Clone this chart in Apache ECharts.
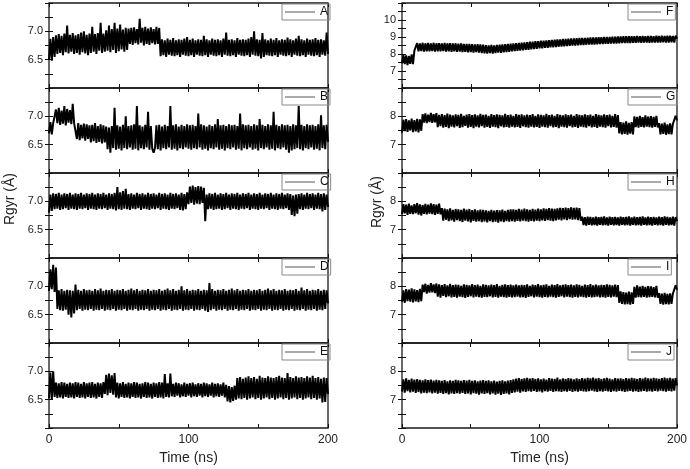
<!DOCTYPE html>
<html><head><meta charset="utf-8">
<script src="https://cdn.jsdelivr.net/npm/echarts@6/dist/echarts.min.js"></script>
<style>html,body{margin:0;padding:0;background:#fff}#c{width:690px;height:469px}</style>
</head><body><div id="c"></div>
<script>
// Sampling step of the traces (ns) and panel names
const STEP_NS = 1;
const panelNames = ['A','B','C','D','E','F','G','H','I','J'];

// Rgyr (Å) traces, one value per ns from 0 to 200 ns
const rgyrA = [
6.50,6.87,6.48,6.90,6.55,6.93,6.60,6.95,6.62,6.92,6.58,6.96,6.63,7.10,6.61,6.94,6.64,6.97,6.60,6.93,
6.62,6.95,6.59,6.98,6.63,7.00,6.61,6.94,6.58,6.96,6.62,7.08,6.64,6.95,6.60,6.97,6.66,7.15,6.62,6.96,
6.64,7.02,6.66,7.10,6.63,7.04,6.67,7.15,6.62,7.05,6.65,7.12,6.68,7.03,6.64,7.06,6.67,7.05,6.78,7.06,
6.76,7.07,6.79,7.04,6.77,7.22,6.80,7.06,6.75,7.08,6.78,7.05,6.76,7.07,6.79,7.04,6.77,7.08,6.78,7.06,
6.56,6.86,6.58,6.84,6.55,6.87,6.59,6.85,6.57,6.88,6.56,6.84,6.58,6.86,6.55,6.85,6.59,6.87,6.57,6.90,
6.56,6.85,6.58,6.87,6.55,6.84,6.59,6.86,6.57,6.85,6.56,6.92,6.58,6.86,6.55,6.84,6.59,6.87,6.57,6.85,
6.56,6.86,6.58,6.84,6.55,6.87,6.59,6.98,6.57,6.85,6.56,6.86,6.58,6.84,6.55,6.88,6.59,6.85,6.57,6.86,
6.56,6.85,6.58,6.87,6.55,6.90,6.59,7.00,6.57,6.86,6.56,6.85,6.52,6.97,6.55,6.86,6.58,6.84,6.57,6.87,
6.56,6.85,6.58,6.88,6.55,6.84,6.59,6.86,6.57,6.85,6.56,6.89,6.58,6.86,6.55,6.84,6.59,6.87,6.57,6.92,
6.56,6.86,6.58,6.84,6.55,6.87,6.59,6.85,6.57,6.86,6.56,6.88,6.58,6.85,6.55,6.86,6.59,6.84,6.57,6.98,
6.60];
const rgyrB = [
6.70,6.90,6.68,6.88,6.86,7.12,6.88,7.15,6.85,7.10,6.87,7.18,6.84,7.13,6.89,7.11,6.86,7.22,6.88,6.86,
6.60,6.88,6.58,6.85,6.61,6.87,6.57,6.86,6.60,6.84,6.54,6.85,6.56,6.88,6.53,6.83,6.55,6.86,6.52,6.84,
6.54,6.82,6.42,6.80,6.36,6.83,6.44,7.15,6.41,6.84,6.43,6.82,6.40,6.85,6.44,7.00,6.42,6.83,6.45,6.84,
6.41,6.86,6.43,7.18,6.40,6.84,6.44,6.82,6.42,6.85,6.45,7.08,6.41,6.83,6.43,6.36,6.44,6.84,6.42,6.85,
6.40,6.82,6.44,6.85,6.42,6.83,6.45,7.18,6.41,6.84,6.43,6.86,6.40,6.82,6.44,6.85,6.42,6.83,6.45,6.86,
6.43,6.84,6.41,6.85,6.44,6.83,6.42,7.05,6.45,6.86,6.41,6.84,6.43,6.82,6.40,6.85,6.44,6.83,6.42,6.86,
6.45,6.95,6.41,6.84,6.43,6.85,6.40,6.83,6.44,6.86,6.42,6.84,6.45,6.85,6.41,6.83,6.43,7.05,6.40,6.86,
6.44,6.84,6.42,6.85,6.45,6.83,6.41,6.86,6.43,6.84,6.40,6.95,6.44,6.85,6.42,6.83,6.45,6.86,6.41,6.84,
6.43,7.08,6.40,6.85,6.44,6.83,6.42,6.86,6.45,6.84,6.41,6.85,6.36,6.83,6.40,6.86,6.42,6.84,6.44,7.18,
6.42,6.85,6.40,6.83,6.44,6.86,6.42,6.84,6.45,6.85,6.41,6.83,6.43,6.86,6.40,7.02,6.44,6.84,6.42,6.85,
6.55];
const rgyrC = [
6.80,7.12,6.83,7.14,6.86,7.13,6.87,7.15,6.85,7.12,6.86,7.14,6.88,7.13,6.85,7.15,6.87,7.12,6.86,7.14,
6.85,7.13,6.87,7.15,6.86,7.12,6.88,7.14,6.85,7.13,6.87,7.15,6.86,7.12,6.85,7.14,6.87,7.13,6.86,7.15,
6.88,7.12,6.85,7.14,6.87,7.13,6.86,7.15,6.84,7.25,6.86,7.16,6.85,7.18,6.87,7.22,6.86,7.13,6.85,7.14,
6.87,7.12,6.86,7.15,6.88,7.13,6.85,7.14,6.87,7.12,6.86,7.15,6.85,7.13,6.87,7.14,6.86,7.12,6.88,7.15,
6.85,7.13,6.87,7.14,6.86,7.12,6.85,7.15,6.87,7.13,6.86,7.14,6.88,7.12,6.85,7.15,6.84,7.13,6.86,7.16,
6.95,7.26,6.97,7.28,6.94,7.25,6.96,7.27,6.95,7.26,6.97,7.24,6.65,7.12,6.86,7.14,6.87,7.13,6.85,7.15,
6.86,7.12,6.87,7.14,6.85,7.13,6.86,7.15,6.88,7.12,6.85,7.14,6.87,7.13,6.86,7.15,6.85,7.12,6.87,7.14,
6.86,7.13,6.88,7.15,6.85,7.12,6.87,7.14,6.86,7.13,6.85,7.15,6.87,7.12,6.86,7.14,6.88,7.13,6.85,7.15,
6.87,7.12,6.86,7.14,6.85,7.13,6.87,7.15,6.86,7.12,6.88,7.14,6.85,7.13,6.76,7.10,6.74,7.12,6.78,7.13,
6.86,7.14,6.85,7.12,6.87,7.15,6.86,7.13,6.88,7.14,6.85,7.12,6.87,7.15,6.86,7.13,6.82,7.14,6.85,7.12,
6.90];
const rgyrD = [
6.92,7.30,6.95,7.38,6.90,7.33,6.60,6.93,6.58,6.95,6.57,6.92,6.59,6.94,6.50,6.93,6.45,6.92,6.52,7.03,
6.58,6.94,6.60,6.92,6.57,6.95,6.59,6.93,6.58,6.94,6.60,6.92,6.57,6.95,6.59,6.93,6.58,6.96,6.60,6.92,
6.57,6.94,6.59,6.93,6.58,6.95,6.60,6.92,6.57,6.94,6.59,6.93,6.58,6.95,6.60,6.92,6.57,6.94,6.59,6.96,
6.58,6.93,6.60,6.95,6.57,6.92,6.59,6.94,6.58,6.93,6.60,6.95,6.57,6.92,6.59,6.94,6.58,6.93,6.60,6.95,
6.57,6.92,6.59,6.94,6.58,6.96,6.60,6.93,6.57,6.95,6.59,6.92,6.58,6.94,6.60,7.00,6.57,6.93,6.59,6.95,
6.58,6.92,6.60,6.94,6.57,6.93,6.59,6.95,6.58,6.92,6.60,6.94,6.57,6.93,6.55,7.06,6.58,6.95,6.60,6.92,
6.57,6.94,6.59,6.93,6.58,6.95,6.60,6.92,6.57,6.94,6.59,6.96,6.58,6.93,6.60,6.95,6.57,6.92,6.59,6.94,
6.58,6.93,6.60,6.95,6.57,6.92,6.59,6.94,6.58,6.93,6.60,6.95,6.57,6.92,6.59,6.94,6.58,6.96,6.60,6.93,
6.57,6.95,6.59,6.92,6.58,6.94,6.60,6.93,6.57,6.95,6.59,6.92,6.58,6.94,6.60,6.93,6.57,6.95,6.59,6.92,
6.58,6.98,6.60,6.93,6.57,6.95,6.59,6.92,6.58,6.94,6.60,6.93,6.57,6.95,6.59,6.92,6.58,6.94,6.60,6.93,
6.70];
const rgyrE = [
6.52,6.98,6.50,7.00,6.55,6.80,6.53,6.79,6.54,6.81,6.52,6.80,6.55,6.78,6.53,6.80,6.54,6.79,6.52,6.81,
6.55,6.80,6.53,6.78,6.54,6.81,6.52,6.79,6.55,6.80,6.53,6.81,6.54,6.78,6.52,6.80,6.55,6.79,6.53,6.81,
6.60,6.94,6.58,6.96,6.62,6.93,6.59,6.97,6.54,6.80,6.52,6.79,6.55,6.81,6.53,6.78,6.54,6.80,6.52,6.79,
6.55,6.81,6.53,6.80,6.54,6.78,6.52,6.79,6.55,6.81,6.53,6.80,6.54,6.78,6.52,6.80,6.55,6.79,6.53,6.81,
6.54,6.80,6.52,6.95,6.55,6.79,6.54,6.96,6.56,6.78,6.55,6.80,6.57,6.79,6.54,6.77,6.56,6.80,6.55,6.78,
6.57,6.79,6.54,6.80,6.56,6.77,6.55,6.79,6.57,6.78,6.54,6.80,6.56,6.79,6.55,6.77,6.57,6.80,6.54,6.78,
6.56,6.79,6.55,6.77,6.57,6.80,6.54,6.76,6.47,6.74,6.45,6.72,6.48,6.75,6.50,6.88,6.52,6.90,6.51,6.87,
6.53,6.89,6.50,6.91,6.52,6.88,6.54,6.90,6.51,6.87,6.53,6.92,6.50,6.89,6.52,6.88,6.54,6.91,6.51,6.89,
6.53,6.88,6.50,6.90,6.52,6.92,6.54,6.89,6.51,6.88,6.53,6.97,6.50,6.90,6.52,6.88,6.54,6.91,6.51,6.89,
6.53,6.90,6.50,6.88,6.52,6.91,6.54,6.89,6.51,6.92,6.53,6.88,6.50,6.90,6.52,6.87,6.45,6.89,6.46,6.88,
6.60];
const rgyrF = [
7.45,7.95,7.40,7.92,7.35,7.88,7.42,7.98,7.40,8.20,8.18,8.64,8.15,8.62,8.17,8.66,8.14,8.63,8.16,8.65,
8.15,8.62,8.17,8.66,8.14,8.63,8.16,8.64,8.15,8.62,8.17,8.65,8.14,8.63,8.16,8.64,8.13,8.62,8.15,8.63,
8.12,8.61,8.14,8.62,8.11,8.60,8.13,8.59,8.10,8.60,8.12,8.58,8.09,8.57,8.11,8.58,8.08,8.56,8.06,8.55,
8.04,8.52,8.02,8.50,8.05,8.53,8.03,8.51,8.06,8.54,8.08,8.55,8.07,8.56,8.10,8.58,8.12,8.59,8.13,8.61,
8.15,8.62,8.17,8.64,8.19,8.65,8.20,8.67,8.22,8.68,8.24,8.70,8.25,8.72,8.27,8.73,8.29,8.75,8.31,8.76,
8.33,8.78,8.34,8.79,8.36,8.80,8.37,8.81,8.39,8.83,8.40,8.84,8.41,8.85,8.43,8.86,8.44,8.88,8.45,8.89,
8.46,8.90,8.48,8.91,8.49,8.92,8.50,8.93,8.51,8.94,8.52,8.95,8.53,8.95,8.54,8.96,8.55,8.97,8.56,8.97,
8.56,8.98,8.57,8.99,8.58,8.99,8.59,9.00,8.60,9.00,8.60,9.01,8.61,9.02,8.62,9.02,8.62,9.03,8.63,9.03,
8.64,9.04,8.64,9.04,8.65,9.05,8.65,9.05,8.66,9.04,8.66,9.06,8.67,9.05,8.66,9.06,8.67,9.05,8.68,9.06,
8.66,9.06,8.68,9.05,8.67,9.07,8.68,9.06,8.67,9.08,8.69,9.06,8.68,9.07,8.67,9.08,8.69,9.06,8.68,9.08,
8.90];
const rgyrG = [
7.42,7.88,7.48,7.90,7.45,7.86,7.50,7.92,7.44,7.87,7.47,7.91,7.43,7.89,7.49,8.08,7.78,8.10,7.76,8.06,
7.80,8.12,7.77,8.08,7.79,8.11,7.62,8.05,7.65,8.08,7.60,8.04,7.63,8.10,7.58,8.06,7.64,8.03,7.61,8.07,
7.65,8.05,7.59,8.09,7.62,8.02,7.66,8.06,7.60,8.08,7.63,8.04,7.58,8.07,7.64,8.03,7.61,8.09,7.65,8.05,
7.60,8.06,7.63,8.02,7.59,8.08,7.64,8.04,7.62,8.07,7.58,8.05,7.65,8.03,7.61,8.09,7.63,8.04,7.60,8.06,
7.64,8.02,7.61,8.08,7.63,8.05,7.59,8.07,7.65,8.03,7.62,8.06,7.60,8.04,7.64,8.08,7.61,8.02,7.63,8.07,
7.59,8.05,7.64,8.03,7.62,8.09,7.60,8.04,7.65,8.06,7.61,8.02,7.63,8.08,7.58,8.05,7.64,8.03,7.62,8.07,
7.60,8.04,7.65,8.06,7.61,8.02,7.63,8.08,7.59,8.05,7.64,8.03,7.62,8.07,7.60,8.04,7.65,8.06,7.61,8.02,
7.63,8.08,7.59,8.05,7.64,8.03,7.62,8.07,7.60,8.04,7.65,8.06,7.61,8.02,7.63,8.08,7.60,8.04,7.40,7.80,
7.36,7.78,7.38,7.82,7.35,7.77,7.39,7.80,7.36,8.00,7.62,7.98,7.60,8.02,7.63,7.97,7.61,8.03,7.64,7.99,
7.62,8.01,7.60,7.98,7.63,8.02,7.61,7.76,7.36,7.74,7.38,7.78,7.35,7.72,7.37,7.75,7.36,7.73,7.72,8.02,
7.85];
const rgyrH = [
7.55,7.90,7.58,7.88,7.52,7.92,7.56,7.86,7.55,7.90,7.58,7.94,7.53,7.89,7.50,7.87,7.56,7.91,7.54,7.88,
7.57,7.93,7.55,7.90,7.52,7.88,7.56,7.92,7.54,7.76,7.32,7.74,7.35,7.72,7.30,7.75,7.33,7.70,7.28,7.73,
7.34,7.72,7.30,7.70,7.27,7.74,7.32,7.71,7.29,7.73,7.26,7.69,7.31,7.72,7.28,7.68,7.30,7.71,7.27,7.70,
7.29,7.68,7.26,7.66,7.30,7.70,7.27,7.67,7.28,7.69,7.25,7.68,7.29,7.71,7.27,7.66,7.30,7.70,7.28,7.72,
7.30,7.72,7.28,7.70,7.31,7.73,7.29,7.71,7.32,7.74,7.30,7.72,7.28,7.70,7.31,7.73,7.29,7.71,7.32,7.74,
7.30,7.72,7.33,7.75,7.31,7.73,7.34,7.76,7.32,7.74,7.30,7.73,7.33,7.75,7.35,7.77,7.33,7.76,7.36,7.78,
7.34,7.76,7.37,7.79,7.35,7.77,7.36,7.78,7.34,7.76,7.32,7.46,7.16,7.44,7.14,7.46,7.17,7.45,7.15,7.43,
7.16,7.46,7.14,7.44,7.17,7.45,7.15,7.47,7.16,7.43,7.14,7.46,7.17,7.44,7.15,7.45,7.16,7.43,7.14,7.46,
7.17,7.44,7.15,7.45,7.16,7.47,7.14,7.43,7.17,7.46,7.15,7.44,7.16,7.45,7.14,7.47,7.17,7.43,7.15,7.46,
7.16,7.44,7.14,7.45,7.17,7.43,7.15,7.46,7.16,7.44,7.14,7.47,7.17,7.45,7.15,7.43,7.16,7.46,7.14,7.44,
7.30];
const rgyrI = [
7.45,7.86,7.42,7.90,7.48,7.88,7.46,7.93,7.43,7.89,7.47,7.87,7.44,7.91,7.48,8.06,7.80,8.09,7.74,8.05,
7.78,8.11,7.79,8.07,7.76,8.10,7.64,8.07,7.60,8.04,7.66,8.08,7.62,8.03,7.65,8.09,7.61,8.04,7.63,8.06,
7.60,8.05,7.64,8.02,7.62,8.07,7.59,8.05,7.63,8.03,7.65,8.08,7.61,8.04,7.64,8.06,7.62,8.02,7.60,8.07,
7.63,8.05,7.62,8.03,7.65,8.06,7.61,8.04,7.63,8.08,7.60,8.02,7.64,8.05,7.62,8.07,7.60,8.04,7.63,8.06,
7.61,8.03,7.62,8.06,7.64,8.03,7.61,8.05,7.62,8.04,7.59,8.07,7.63,8.02,7.65,8.06,7.61,8.04,7.64,8.08,
7.62,8.03,7.60,8.05,7.63,8.07,7.61,8.02,7.64,8.06,7.62,8.04,7.60,8.08,7.63,8.03,7.65,8.05,7.61,8.07,
7.64,8.04,7.62,8.06,7.60,8.03,7.63,8.07,7.61,8.05,7.64,8.02,7.62,8.06,7.60,8.04,7.63,8.08,7.61,8.03,
7.62,8.06,7.64,8.03,7.61,8.05,7.62,8.04,7.60,8.07,7.63,8.05,7.61,8.03,7.64,8.06,7.62,8.04,7.42,7.82,
7.38,7.80,7.36,7.78,7.37,7.81,7.35,7.79,7.38,7.98,7.60,8.03,7.62,7.99,7.61,8.02,7.63,7.98,7.60,8.01,
7.62,8.00,7.63,7.97,7.61,8.02,7.60,7.76,7.38,7.74,7.35,7.77,7.37,7.73,7.36,7.75,7.38,7.74,7.75,8.04,
7.88];
const rgyrJ = [
7.28,7.72,7.25,7.75,7.30,7.70,7.26,7.74,7.28,7.71,7.24,7.73,7.27,7.70,7.22,7.68,7.25,7.72,7.23,7.69,
7.26,7.71,7.22,7.67,7.25,7.70,7.21,7.68,7.24,7.66,7.20,7.69,7.23,7.65,7.19,7.68,7.22,7.66,7.20,7.70,
7.23,7.68,7.21,7.66,7.24,7.69,7.20,7.67,7.22,7.70,7.19,7.66,7.23,7.68,7.21,7.65,7.18,7.67,7.22,7.69,
7.20,7.66,7.23,7.68,7.19,7.65,7.22,7.67,7.18,7.64,7.21,7.66,7.17,7.68,7.20,7.65,7.22,7.67,7.19,7.69,
7.24,7.72,7.26,7.74,7.28,7.76,7.25,7.73,7.29,7.75,7.27,7.77,7.30,7.74,7.28,7.76,7.31,7.73,7.27,7.75,
7.29,7.72,7.26,7.74,7.30,7.71,7.28,7.76,7.31,7.74,7.27,7.73,7.30,7.78,7.29,7.72,7.27,7.75,7.30,7.73,
7.28,7.76,7.31,7.74,7.27,7.72,7.30,7.75,7.28,7.73,7.31,7.76,7.29,7.74,7.28,7.77,7.30,7.75,7.32,7.78,
7.29,7.74,7.27,7.76,7.30,7.73,7.28,7.75,7.31,7.77,7.29,7.74,7.27,7.72,7.30,7.76,7.28,7.74,7.31,7.75,
7.30,7.73,7.27,7.76,7.29,7.74,7.31,7.77,7.28,7.75,7.30,7.73,7.27,7.76,7.29,7.74,7.31,7.78,7.28,7.75,
7.30,7.74,7.28,7.77,7.31,7.75,7.29,7.73,7.32,7.76,7.30,7.78,7.28,7.75,7.31,7.77,7.29,7.74,7.32,7.76,
7.50];

// Tick labels
const xTickLabels = [0, 100, 200];
const leftYTickLabels = [6.5, 7.0];
const fYTickLabels = [7, 8, 9, 10];
const ghijYTickLabels = [7, 8];

const traces = [rgyrA,rgyrB,rgyrC,rgyrD,rgyrE,rgyrF,rgyrG,rgyrH,rgyrI,rgyrJ];

const FONT = 'Liberation Sans, Arial, sans-serif';
const grids = [], xAxes = [], yAxes = [], series = [], legends = [];
const has = (arr, v) => arr.some(a => Math.abs(a - v) < 1e-6);

for (let k = 0; k < 10; k++) {
  const col = k < 5 ? 0 : 1, row = k % 5;
  const left = col === 0 ? 49 : 402;
  const width = col === 0 ? 279 : 275;
  const top = 3 + 85 * row;
  grids.push({left: left, top: top, width: width, height: 85, show: true,
    borderColor: '#1a1a1a', borderWidth: 1.3, backgroundColor: 'transparent', containLabel: false});

  let ymin, ymax, yint, ylabels, dec;
  if (col === 0) { ymin = 6.0; ymax = 7.5; yint = 0.25; ylabels = leftYTickLabels; dec = 1; }
  else if (k === 5) { ymin = 6; ymax = 11; yint = 0.5; ylabels = fYTickLabels; dec = 0; }
  else { ymin = 6; ymax = 9; yint = 0.5; ylabels = ghijYTickLabels; dec = 0; }

  const tick = {show: true, inside: true, length: 4, lineStyle: {color: '#111', width: 1}};
  const bottomRow = row === 4;
  xAxes.push({type: 'value', gridIndex: k, min: 0, max: 200, interval: 50, position: 'bottom',
    axisLine: {show: false}, axisTick: tick, splitLine: {show: false},
    axisLabel: {show: bottomRow, margin: 6, color: '#222', fontSize: 12, fontFamily: FONT,
      formatter: v => has(xTickLabels, v) ? String(v) : ''},
    name: bottomRow ? 'Time (ns)' : '', nameLocation: 'middle', nameGap: 23,
    nameTextStyle: {fontSize: 14, color: '#222', fontFamily: FONT}});
  xAxes.push({type: 'value', gridIndex: k, min: 0, max: 200, interval: 50, position: 'top',
    axisLine: {show: false}, axisTick: tick, splitLine: {show: false}, axisLabel: {show: false}});
  yAxes.push({type: 'value', gridIndex: k, min: ymin, max: ymax, interval: yint, position: 'left',
    axisLine: {show: false}, axisTick: tick, splitLine: {show: false},
    axisLabel: {margin: 6, color: '#222', fontSize: 11, fontFamily: FONT,
      formatter: v => has(ylabels, v) ? v.toFixed(dec) : ''}});
  yAxes.push({type: 'value', gridIndex: k, min: ymin, max: ymax, interval: yint, position: 'right',
    axisLine: {show: false}, axisTick: tick, splitLine: {show: false}, axisLabel: {show: false}});

  series.push({type: 'line', name: panelNames[k], xAxisIndex: 2 * k, yAxisIndex: 2 * k,
    data: traces[k].map((v, i) => [i * STEP_NS, v]),
    symbol: 'none', showSymbol: false, sampling: null, clip: true,
    lineStyle: {color: '#000', width: 2, join: 'bevel'}, itemStyle: {color: '#000'}, animation: false});

  legends.push({data: [{name: panelNames[k], icon: 'rect'}], left: col === 0 ? 282 : 628, top: top + 1,
    orient: 'horizontal', itemWidth: 30, itemHeight: 1, itemGap: 0,
    borderColor: '#888', borderWidth: 1, padding: [1, 2, 1, 3],
    itemStyle: {color: '#555', borderWidth: 0},
    textStyle: {fontSize: 12, color: '#111', fontFamily: FONT, lineHeight: 14},
    selectedMode: false});
}

const chart = echarts.init(document.getElementById('c'), null, {renderer: 'canvas'});
chart.setOption({
  animation: false,
  backgroundColor: '#fff',
  grid: grids, xAxis: xAxes, yAxis: yAxes, series: series, legend: legends,
  graphic: [
    {type: 'text', left: 3, top: 173, rotation: Math.PI / 2, style: {text: 'Rgyr (Å)', fill: '#222', font: '14px ' + FONT}},
    {type: 'text', left: 370, top: 176, rotation: Math.PI / 2, style: {text: 'Rgyr (Å)', fill: '#222', font: '14px ' + FONT}}
  ]
});
</script>
</body></html>
